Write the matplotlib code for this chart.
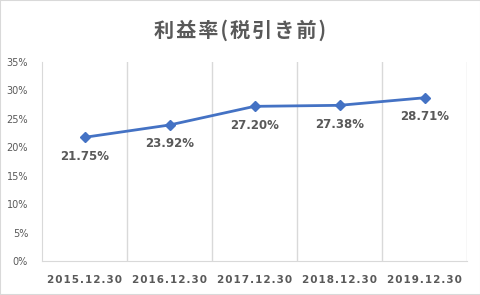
import matplotlib
matplotlib.use('Agg')
import matplotlib.pyplot as plt
from matplotlib.patches import Rectangle

plt.rcParams['font.family'] = ['Noto Sans CJK JP', 'DejaVu Sans']

categories = ['2015.12.30', '2016.12.30', '2017.12.30', '2018.12.30', '2019.12.30']
values = [21.75, 23.92, 27.20, 27.38, 28.71]
yticks = [0, 5, 10, 15, 20, 25, 30, 35]
title = '利益率(税引き前)'

GRAY = '#595959'
GRID = '#D9D9D9'
BLUE = '#4472C4'

fig = plt.figure(figsize=(4.81, 2.95), dpi=100)
ax = fig.add_axes([42 / 481, 1 - 261 / 295, 425 / 481, 199 / 295])

x = list(range(len(categories)))
ax.plot(x, values, color=BLUE, lw=2, marker='D', ms=5, zorder=3)
for xi, v in zip(x, values):
    ax.annotate(f'{v:.2f}%', (xi, v), xytext=(0, -9), textcoords='offset points',
                ha='center', va='top', fontsize=8.5, fontweight='bold', color=GRAY,
                family=['DejaVu Sans'])

ax.set_xlim(-0.5, len(categories) - 0.5)
ax.set_ylim(0, 35)
ax.set_yticks(yticks)
ax.set_yticklabels([f'{t}%' for t in yticks], fontsize=7, color=GRAY, family=['DejaVu Sans'])
ax.set_xticks(x)
ax.set_xticklabels(['\u200a'.join(c) for c in categories], fontsize=7.5, fontweight='bold',
                   color=GRAY, family=['DejaVu Sans'])
ax.tick_params(axis='both', length=0)
ax.tick_params(axis='x', pad=10)
ax.tick_params(axis='y', pad=10)

# vertical category gridlines between categories
for b in [i + 0.5 for i in x[:-1]] + [len(categories) - 0.5]:
    ax.axvline(b, color=GRID, lw=1, zorder=1)
for s in ['top', 'right']:
    ax.spines[s].set_visible(False)
ax.spines['left'].set_color(GRID)
ax.spines['bottom'].set_color(GRID)

fig.text(0.5, 1 - 30 / 295, '\u200a'.join(title), ha='center', va='center', fontsize=14.5,
         fontweight='bold', color=GRAY)
fig.patches.append(Rectangle((0, 0), 1, 1, transform=fig.transFigure, fill=False,
                             edgecolor=GRID, lw=1.5))

fig.savefig('out.png', dpi=100)
